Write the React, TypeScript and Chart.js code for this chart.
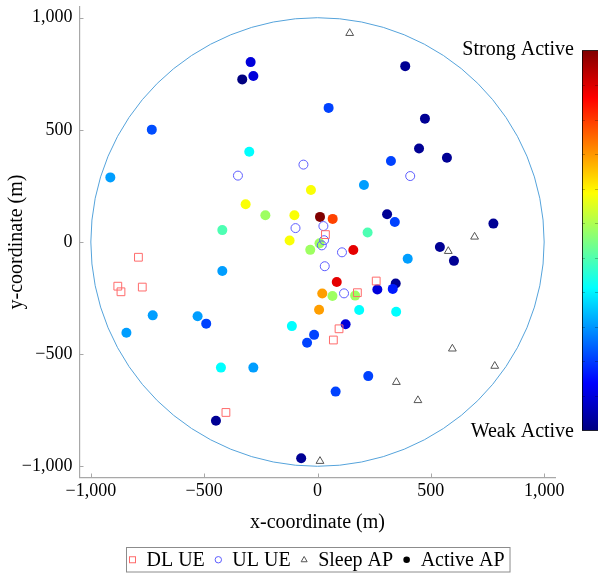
import React, { useEffect, useRef } from 'react';
import { Chart, registerables } from 'chart.js';

Chart.register(...registerables);

const FONT = "'Liberation Serif', 'Times New Roman', serif";

// ---------- data ----------
const xTicks = [-1000, -500, 0, 500, 1000];
const yTicks = [-1000, -500, 0, 500, 1000];
const axisMin = -1050;
const axisMax = 1050;
const cellRadius = 1000;

const legendLabels = ['DL UE', 'UL UE', 'Sleep AP', 'Active AP'];
const colorbarLabels = ['Strong Active', 'Weak Active'];
const axisTitles = ['x-coordinate (m)', 'y-coordinate (m)'];

const dlUeX = [-790, -881, -867, -773, -404, 35, 259, 176, 95, 70];
const dlUeY = [-68, -197, -222, -201, -760, 33, -174, -226, -387, -437];

const ulUeX = [-62, -351, 409, -97, 26, 29, 19, 108, 32, 117];
const ulUeY = [345, 296, 294, 62, 71, 8, -15, -46, -108, -229];

const sleepApX = [142, 693, 577, 595, 782, 348, 443, 11];
const sleepApY = [931, 23, -41, -476, -553, -625, -706, -977];

const activeApX = [
  -295, -332, -283, 49, -731, -301, -914, -29, -317, -230,
  -102, 11, 67, -420, -123, 387, 474, 448, 571, 324,
  205, 307, 341, 221, 776, -32, 9, 158, 540, 602,
  398, 85, 345, 264, 332, 21, 66, 166, 7, 184,
  347, 124, -15, -46, 224, 80, -72, -420, -727, -843,
  -529, -491, -113, -426, -283, -448,
];
const activeApY = [
  802, 725, 740, 598, 501, 402, 288, 232, 168, 119,
  119, 112, 103, 53, 7, 784, 550, 417, 376, 361,
  254, 124, 89, 42, 82, -35, -6, -36, -22, -84,
  -75, -178, -185, -212, -209, -230, -241, -239, -302, -303,
  -311, -367, -414, -449, -598, -667, -964, -129, -327, -405,
  -331, -364, -375, -560, -560, -797,
];
const activeLevel = [
  0.09, 0.0, 0.09, 0.19, 0.2, 0.375, 0.28, 0.62, 0.62, 0.53,
  0.62, 1.0, 0.81, 0.45, 0.62, 0.02, 0.02, 0.02, 0.02, 0.19,
  0.28, 0.02, 0.19, 0.45, 0.02, 0.53, 0.53, 0.9, 0.02, 0.02,
  0.28, 0.9, 0.02, 0.09, 0.15, 0.72, 0.53, 0.53, 0.72, 0.375,
  0.375, 0.09, 0.19, 0.19, 0.19, 0.19, 0.02, 0.28, 0.28, 0.28,
  0.28, 0.19, 0.375, 0.375, 0.28, 0.02,
];

// ---------- style ----------
const JET: [number, number[]][] = [
  [0, [0, 0, 0.5]],
  [1 / 8, [0, 0, 1]],
  [3 / 8, [0, 1, 1]],
  [5 / 8, [1, 1, 0]],
  [7 / 8, [1, 0, 0]],
  [1, [0.5, 0, 0]],
];

function jet(v: number): string {
  const t = Math.max(0, Math.min(1, v));
  for (let i = 1; i < JET.length; i++) {
    const [p1, c1] = JET[i];
    const [p0, c0] = JET[i - 1];
    if (t <= p1) {
      const f = (t - p0) / (p1 - p0);
      const c = c0.map((a, k) => Math.round(255 * (a + (c1[k] - a) * f)));
      return `rgb(${c[0]},${c[1]},${c[2]})`;
    }
  }
  return 'rgb(128,0,0)';
}

function fmtTick(v: number): string {
  const a = Math.abs(v);
  const s = a >= 1000 ? `${Math.floor(a / 1000)},${String(a % 1000).padStart(3, '0')}` : String(a);
  return v < 0 ? '\u2212' + s : s;
}

const DL_COLOR = '#ff6b6b';
const UL_COLOR = '#5c5cff';
const SLEEP_COLOR = '#555555';
const AXIS_COLOR = '#a8a8a8';
const CIRCLE_COLOR = '#55a3db';

const decorPlugin = {
  id: 'decor',
  beforeDatasetsDraw(chart: any) {
    const { ctx, scales } = chart;
    const xs = scales.x;
    const ys = scales.y;
    const cx = xs.getPixelForValue(0);
    const cy = ys.getPixelForValue(0);
    const rx = xs.getPixelForValue(cellRadius) - cx;
    const ry = cy - ys.getPixelForValue(cellRadius);
    ctx.save();
    ctx.strokeStyle = CIRCLE_COLOR;
    ctx.lineWidth = 1;
    ctx.beginPath();
    ctx.ellipse(cx, cy, rx, ry, 0, 0, Math.PI * 2);
    ctx.stroke();
    ctx.restore();
  },
  afterDraw(chart: any) {
    const { ctx, scales, chartArea } = chart;
    const xs = scales.x;
    const ys = scales.y;
    ctx.save();
    // inward tick marks
    ctx.strokeStyle = AXIS_COLOR;
    ctx.lineWidth = 1;
    xTicks.forEach((v) => {
      const px = Math.round(xs.getPixelForValue(v)) + 0.5;
      ctx.beginPath();
      ctx.moveTo(px, chartArea.bottom);
      ctx.lineTo(px, chartArea.bottom - 4);
      ctx.stroke();
    });
    yTicks.forEach((v) => {
      const py = Math.round(ys.getPixelForValue(v)) + 0.5;
      ctx.beginPath();
      ctx.moveTo(chartArea.left, py);
      ctx.lineTo(chartArea.left + 4, py);
      ctx.stroke();
    });

    // colorbar
    const cbX = 582;
    const cbTop = 50.5;
    const cbBottom = 430.5;
    const cbW = 16;
    const grad = ctx.createLinearGradient(0, cbBottom, 0, cbTop);
    JET.forEach(([p, c]) => {
      grad.addColorStop(p, `rgb(${Math.round(c[0] * 255)},${Math.round(c[1] * 255)},${Math.round(c[2] * 255)})`);
    });
    ctx.fillStyle = grad;
    ctx.fillRect(cbX, cbTop, cbW, cbBottom - cbTop);
    ctx.strokeStyle = 'rgba(0,0,0,0.25)';
    const n = 11;
    for (let i = 1; i < n; i++) {
      const py = Math.round(cbTop + ((cbBottom - cbTop) * i) / n) + 0.5;
      ctx.beginPath();
      ctx.moveTo(cbX, py);
      ctx.lineTo(cbX + 3, py);
      ctx.moveTo(cbX + cbW - 3, py);
      ctx.lineTo(cbX + cbW, py);
      ctx.stroke();
    }
    ctx.strokeStyle = 'rgba(0,0,0,0.75)';
    ctx.lineWidth = 1;
    ctx.strokeRect(cbX + 0.5, cbTop, cbW, cbBottom - cbTop);

    ctx.fillStyle = '#000';
    ctx.font = `20px ${FONT}`;
    ctx.textAlign = 'right';
    ctx.textBaseline = 'middle';
    ctx.fillText(colorbarLabels[0], 574, 49.5);
    ctx.fillText(colorbarLabels[1], 574, 432);

    // legend
    ctx.font = `20px ${FONT}`;
    const widths = legendLabels.map((t) => ctx.measureText(t).width);
    const total = 6 + 4 * 14 + 3 * 13.5 + 5.5 + widths.reduce((a, b) => a + b, 0);
    const boxLeft = Math.round(318 - total / 2) + 0.5;
    const boxTop = 547.5;
    const boxH = 24.5;
    const midY = boxTop + boxH / 2;
    ctx.strokeStyle = '#8c8c8c';
    ctx.lineWidth = 1;
    ctx.strokeRect(boxLeft, boxTop, total, boxH);
    let x = boxLeft + 6;
    legendLabels.forEach((label, i) => {
      ctx.lineWidth = 1;
      if (i === 0) {
        ctx.strokeStyle = DL_COLOR;
        ctx.strokeRect(x - 3, midY - 3, 6, 6);
      } else if (i === 1) {
        ctx.strokeStyle = UL_COLOR;
        ctx.beginPath();
        ctx.arc(x, midY, 3.2, 0, Math.PI * 2);
        ctx.stroke();
      } else if (i === 2) {
        ctx.strokeStyle = SLEEP_COLOR;
        ctx.beginPath();
        ctx.moveTo(x, midY - 3.3);
        ctx.lineTo(x + 3, midY + 2);
        ctx.lineTo(x - 3, midY + 2);
        ctx.closePath();
        ctx.stroke();
      } else {
        ctx.fillStyle = '#000';
        ctx.beginPath();
        ctx.arc(x, midY, 3.3, 0, Math.PI * 2);
        ctx.fill();
      }
      ctx.fillStyle = '#000';
      ctx.textAlign = 'left';
      ctx.fillText(label, x + 14, midY + 0.5);
      x = x + 14 + widths[i] + 13.5;
    });
    ctx.restore();
  },
};

function makePoints(xs: number[], ys: number[]) {
  return xs.map((x, i) => ({ x, y: ys[i] }));
}

export default function App() {
  const canvasRef = useRef<HTMLCanvasElement | null>(null);

  useEffect(() => {
    if (!canvasRef.current) return;
    const tickFont = { family: FONT, size: 18 };
    const titleFont = { family: FONT, size: 20 };
    const chart = new Chart(canvasRef.current, {
      type: 'scatter',
      data: {
        datasets: [
          {
            label: legendLabels[0],
            data: makePoints(dlUeX, dlUeY),
            pointStyle: 'rect',
            pointRadius: 5.5,
            pointHoverRadius: 5.5,
            pointBorderColor: DL_COLOR,
            pointBackgroundColor: 'rgba(0,0,0,0)',
            pointBorderWidth: 1,
            borderColor: DL_COLOR,
            backgroundColor: 'rgba(0,0,0,0)',
          },
          {
            label: legendLabels[1],
            data: makePoints(ulUeX, ulUeY),
            pointStyle: 'circle',
            pointRadius: 4.5,
            pointHoverRadius: 4.5,
            pointBorderColor: UL_COLOR,
            pointBackgroundColor: 'rgba(0,0,0,0)',
            pointBorderWidth: 1,
            borderColor: UL_COLOR,
            backgroundColor: 'rgba(0,0,0,0)',
          },
          {
            label: legendLabels[2],
            data: makePoints(sleepApX, sleepApY),
            pointStyle: 'triangle',
            pointRadius: 4.5,
            pointHoverRadius: 4.5,
            pointBorderColor: SLEEP_COLOR,
            pointBackgroundColor: 'rgba(0,0,0,0)',
            pointBorderWidth: 1,
            borderColor: SLEEP_COLOR,
            backgroundColor: 'rgba(0,0,0,0)',
          },
          {
            label: legendLabels[3],
            data: makePoints(activeApX, activeApY),
            pointStyle: 'circle',
            pointRadius: 5,
            pointHoverRadius: 5,
            pointBackgroundColor: activeLevel.map(jet),
            pointBorderColor: activeLevel.map(jet),
            pointBorderWidth: 0,
          },
        ],
      },
      options: {
        responsive: false,
        animation: false,
        events: [],
        layout: { padding: { left: 0, right: 42.5, top: 3.3, bottom: 38.5 } },
        plugins: { legend: { display: false }, tooltip: { enabled: false } },
        scales: {
          x: {
            type: 'linear',
            min: axisMin,
            max: axisMax,
            afterBuildTicks: (s: any) => {
              s.ticks = xTicks.map((v) => ({ value: v }));
            },
            afterFit: (s: any) => {
              s.height = 57;
              s.paddingLeft = 0;
              s.paddingRight = 0;
            },
            grid: { display: false, drawTicks: false },
            border: { display: true, color: AXIS_COLOR, width: 1.2 },
            ticks: {
              padding: 3,
              font: tickFont,
              color: '#000',
              maxRotation: 0,
              autoSkip: false,
              callback: (v: any) => fmtTick(Number(v)),
            },
            title: { display: true, text: axisTitles[0], font: titleFont, color: '#000', padding: 0 },
          },
          y: {
            type: 'linear',
            min: axisMin,
            max: axisMax,
            afterBuildTicks: (s: any) => {
              s.ticks = yTicks.map((v) => ({ value: v }));
            },
            afterFit: (s: any) => {
              s.width = 79.5;
              s.paddingTop = 0;
              s.paddingBottom = 0;
            },
            grid: { display: false, drawTicks: false },
            border: { display: true, color: AXIS_COLOR, width: 1.2 },
            ticks: {
              padding: 7,
              font: tickFont,
              color: '#000',
              autoSkip: false,
              callback: (v: any) => fmtTick(Number(v)),
            },
            title: { display: true, text: axisTitles[1], font: titleFont, color: '#000', padding: { top: 5, bottom: 0 } },
          },
        },
      },
      plugins: [decorPlugin],
    } as any);
    return () => chart.destroy();
  }, []);

  return (
    <div style={{ position: 'absolute', left: 0, top: 0, width: 598, height: 573, background: '#fff' }}>
      <canvas ref={canvasRef} width={598} height={573} style={{ display: 'block', width: 598, height: 573 }} />
    </div>
  );
}
